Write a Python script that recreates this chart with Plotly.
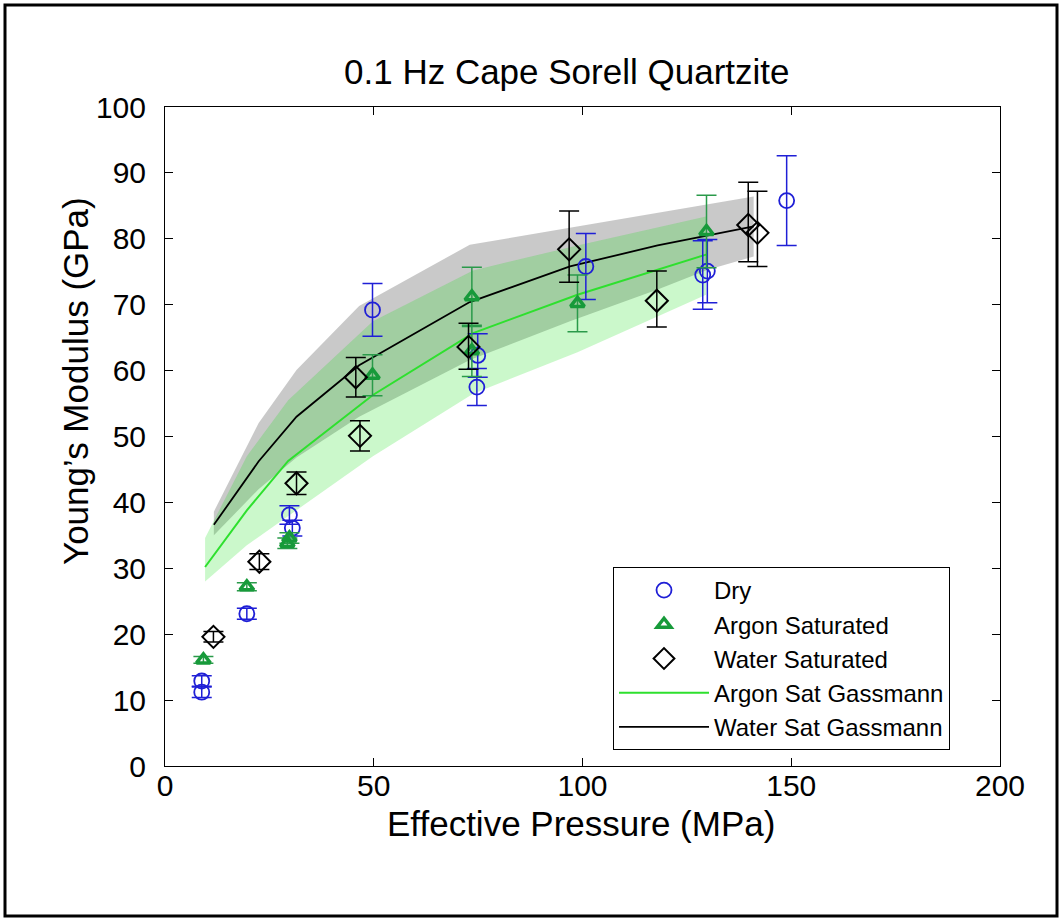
import plotly.graph_objects as go

# ---------------- data ----------------
dry_x = [8.8, 8.8, 19.6, 29.8, 30.5, 49.7, 74.7, 74.9, 100.8, 128.8, 129.9, 148.9]
dry_y = [11.2, 12.9, 23.1, 38.1, 36.1, 69.2, 57.5, 62.3, 75.8, 74.5, 75.1, 85.8]
dry_err = [0.8, 0.8, 0.85, 1.4, 1.2, 4.0, 2.8, 3.3, 5.0, 5.2, 4.8, 6.8]

arg_x = [9.2, 19.6, 29.3, 29.8, 49.7, 73.5, 73.5, 98.8, 129.7]
arg_y = [16.1, 27.2, 33.8, 34.6, 59.3, 63.0, 71.2, 70.2, 81.1]
arg_err = [0.5, 0.6, 0.8, 0.8, 3.1, 3.9, 4.5, 4.3, 5.5]

wat_x = [11.6, 22.6, 31.5, 45.7, 46.7, 72.7, 96.8, 117.8, 139.7, 141.9]
wat_y = [19.6, 31.0, 42.9, 59.0, 50.1, 63.6, 78.4, 70.6, 82.1, 80.9]
wat_err_plus = [0.8, 1.2, 1.7, 3.0, 2.3, 3.6, 5.8, 4.5, 6.5, 6.3]
wat_err_minus = [0.8, 1.2, 1.7, 3.0, 2.3, 3.4, 5.0, 4.0, 5.6, 5.1]

# Gassmann predictions
argG_x = [9.6, 19.6, 29.5, 49.8, 73.8, 98.8, 129.6]
argG_y = [30.2, 38.8, 46.3, 56.3, 65.7, 71.5, 77.6]
argG_hi = [34.6, 47.0, 55.5, 67.5, 75.2, 79.0, 83.4]
argG_lo = [28.0, 33.5, 38.0, 47.0, 56.5, 62.8, 71.5]

watG_x = [11.7, 22.4, 31.5, 46.5, 73.0, 97.0, 118.0, 130.0, 141.0]
watG_y = [36.6, 46.2, 53.0, 60.8, 70.4, 75.8, 79.0, 80.5, 81.9]
watG_hi = [38.6, 52.0, 60.1, 69.8, 79.1, 81.7, 83.9, 85.2, 86.4]
watG_lo = [35.0, 42.0, 46.8, 53.0, 61.6, 67.5, 72.3, 75.3, 77.3]

x_ticks = [0, 50, 100, 150, 200]
y_ticks = [0, 10, 20, 30, 40, 50, 60, 70, 80, 90, 100]

FONT = "Liberation Sans, Arial, sans-serif"
BLUE = "#1f1fd6"
GREEN = "#179a3a"
GREEN_LINE = "#2ee02e"

fig = go.Figure()

# bands
fig.add_trace(go.Scatter(
    x=watG_x + watG_x[::-1], y=watG_hi + watG_lo[::-1],
    fill="toself", fillcolor="rgba(120,120,120,0.40)", line=dict(width=0),
    mode="lines", hoverinfo="skip", showlegend=False))
fig.add_trace(go.Scatter(
    x=argG_x + argG_x[::-1], y=argG_hi + argG_lo[::-1],
    fill="toself", fillcolor="rgba(20,225,20,0.22)", line=dict(width=0),
    mode="lines", hoverinfo="skip", showlegend=False))

# lines
fig.add_trace(go.Scatter(x=argG_x, y=argG_y, mode="lines", name="Argon Sat Gassmann",
                         line=dict(color=GREEN_LINE, width=2), legendrank=4))
fig.add_trace(go.Scatter(x=watG_x, y=watG_y, mode="lines", name="Water Sat Gassmann",
                         line=dict(color="black", width=1.8), legendrank=5))

# points
fig.add_trace(go.Scatter(
    x=dry_x, y=dry_y, mode="markers", name="Dry", legendrank=1,
    marker=dict(symbol="circle-open", size=15, color=BLUE, line=dict(width=1.8, color=BLUE)),
    error_y=dict(type="data", array=dry_err, color=BLUE, thickness=1.5, width=10)))
fig.add_trace(go.Scatter(
    x=arg_x, y=arg_y, mode="markers", name="Argon Saturated", legendrank=2,
    marker=dict(symbol="triangle-up-open", size=12, color=GREEN, line=dict(width=3.5, color=GREEN)),
    error_y=dict(type="data", array=arg_err, color="#2a9a4a", thickness=1.5, width=10)))
fig.add_trace(go.Scatter(
    x=wat_x, y=wat_y, mode="markers", name="Water Saturated", legendrank=3,
    marker=dict(symbol="diamond-open", size=17, color="black", line=dict(width=2, color="black")),
    error_y=dict(type="data", array=wat_err_plus, arrayminus=wat_err_minus,
                 color="black", thickness=1.5, width=10)))

L, R, T, B = 165, 61, 107, 153
W, H = 1061, 919
pw, ph = W - L - R, H - T - B

def px2paper_x(px):
    return (px - L) / pw

def px2paper_y(py):
    return (H - B - py) / ph

axis_common = dict(showline=True, linecolor="black", linewidth=1, mirror="ticks",
                   ticks="inside", ticklen=8, tickcolor="black", tickwidth=1,
                   showgrid=False, zeroline=False,
                   tickfont=dict(family=FONT, size=30, color="black"))

fig.update_layout(
    width=W, height=H,
    margin=dict(l=L, r=R, t=T, b=B, pad=0),
    paper_bgcolor="white", plot_bgcolor="white",
    font=dict(family=FONT, color="black"),
    xaxis=dict(range=[0, 200], tickvals=x_ticks, ticklabelstandoff=-7, **axis_common),
    yaxis=dict(range=[0, 100], tickvals=y_ticks, ticklabelstandoff=12, **axis_common),
    showlegend=True,
    legend=dict(x=px2paper_x(613), y=px2paper_y(567), xanchor="left", yanchor="top",
                bgcolor="white", bordercolor="black", borderwidth=1,
                font=dict(family=FONT, size=24, color="black"),
                itemwidth=90, tracegroupgap=0),
    annotations=[
        dict(text="0.1 Hz Cape Sorell Quartzite", xref="paper", yref="paper",
             x=px2paper_x(566), y=px2paper_y(71), xanchor="center", yanchor="middle",
             showarrow=False, font=dict(family=FONT, size=35, color="black")),
        dict(text="Effective Pressure (MPa)", xref="paper", yref="paper",
             x=px2paper_x(581), y=px2paper_y(824), xanchor="center", yanchor="middle",
             showarrow=False, font=dict(family=FONT, size=35, color="black")),
        dict(text="Young\u2019s Modulus (GPa)", xref="paper", yref="paper",
             x=px2paper_x(75), y=px2paper_y(381), xanchor="center", yanchor="middle",
             textangle=-90, showarrow=False, font=dict(family=FONT, size=35, color="black")),
    ],
    shapes=[dict(type="rect", xref="paper", yref="paper",
                 x0=px2paper_x(5), x1=px2paper_x(1057), y0=px2paper_y(916), y1=px2paper_y(5),
                 line=dict(color="black", width=3))],
)

fig.write_html("out.html")
